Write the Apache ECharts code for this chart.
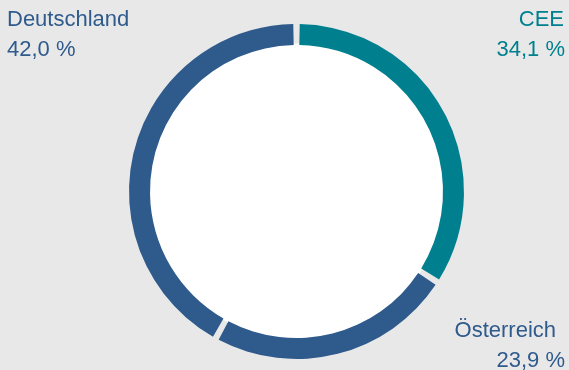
<!DOCTYPE html>
<html><head><meta charset="utf-8">
<script src="https://cdn.jsdelivr.net/npm/echarts@6/dist/echarts.min.js"></script>
<style>html,body{margin:0;padding:0;background:#e8e8e8}#c{width:569px;height:370px}</style>
</head><body><div id="c"></div>
<script>
const categories = ['CEE', 'Österreich', 'Deutschland'];
const values = [34.1, 23.9, 42.0];
const valueLabels = ['34,1 %', '23,9 %', '42,0 %'];
const colors = ['#00808f', '#2e5a8c', '#2e5a8c'];

const chart = echarts.init(document.getElementById('c'), null, {renderer: 'canvas'});
const font = '"Liberation Sans", Arial, Helvetica, sans-serif';
function txt(x, y, s, color, align) {
  return {type: 'text', x: x, y: y, style: {text: s, fill: color, font: '22px ' + font, align: align, verticalAlign: 'middle'}};
}
chart.setOption({
  backgroundColor: '#e8e8e8',
  animation: false,
  series: [
    {type: 'pie', radius: [0, 148], center: [296.5, 191.5], silent: true, label: {show: false},
     data: [{value: 1, itemStyle: {color: '#ffffff'}}]},
    {type: 'pie', radius: [146.5, 167.5], center: [296.5, 191.5], startAngle: 90, clockwise: true,
     padAngle: 2.2, silent: true, label: {show: false}, labelLine: {show: false},
     data: categories.map((c, i) => ({name: c, value: values[i], itemStyle: {color: colors[i]}}))}
  ],
  graphic: [
    txt(7, 20, categories[2], colors[2], 'left'),
    txt(7, 50, valueLabels[2], colors[2], 'left'),
    txt(564, 20, categories[0], colors[0], 'right'),
    txt(565, 50, valueLabels[0], colors[0], 'right'),
    txt(556, 331, categories[1], colors[1], 'right'),
    txt(565, 361, valueLabels[1], colors[1], 'right')
  ]
});
</script></body></html>
